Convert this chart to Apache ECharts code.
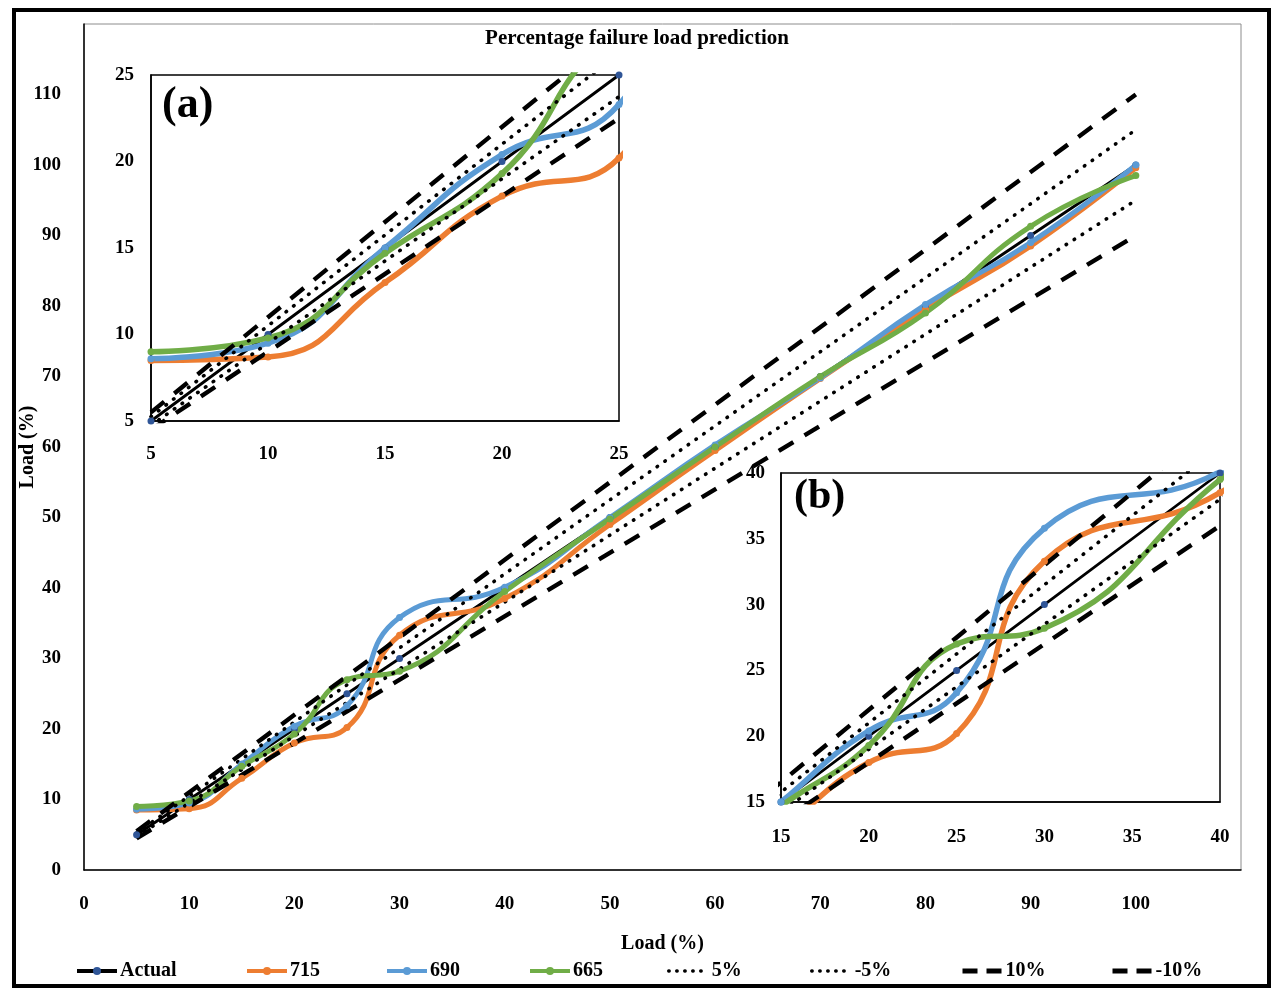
<!DOCTYPE html>
<html>
<head>
<meta charset="utf-8">
<title>Percentage failure load prediction</title>
<script src="https://cdn.jsdelivr.net/npm/echarts@6/dist/echarts.min.js"></script>
<style>
  html, body { margin: 0; padding: 0; background: #fff; }
  #chart { width: 1274px; height: 990px; }
</style>
</head>
<body>
<div id="chart"></div>
<script>
// Applied load (%) at each test point and the actual reference line
const loads   = [5, 10, 15, 20, 25, 30, 40, 50, 60, 70, 80, 90, 100];
const actual  = [5, 10, 15, 20, 25, 30, 40, 50, 60, 70, 80, 90, 100];
// Predicted load (%) for each model
const load715 = [8.5, 8.7, 13.0, 18.0, 20.2, 33.3, 38.5, 49.0, 59.5, 69.7, 79.5, 88.5, 99.6];
const load690 = [8.6, 9.5, 15.0, 20.4, 23.3, 35.8, 40.1, 50.0, 60.3, 69.8, 80.2, 89.0, 100.0];
const load665 = [9.0, 9.8, 14.7, 19.3, 27.0, 28.2, 39.5, 49.8, 60.0, 70.0, 79.0, 91.3, 98.5];
// Tolerance band end points
const bandX   = [5, 100];
const plus5   = [5.25, 105];
const minus5  = [4.75, 95];
const plus10  = [5.5, 110];
const minus10 = [4.5, 90];

const seriesNames = ['Actual', '715', '690', '665', '5%', '-5%', '10%', '-10%'];

const FONT = '"Liberation Serif", "Times New Roman", serif';
const ORANGE = '#ED7D31', BLUE = '#5B9BD5', GREEN = '#70AD47', MARK = '#2F5597';

function pairs(xs, ys) { return xs.map((x, i) => [x, ys[i]]); }

const dottedStyle = { color: '#000', width: 3.6, type: [0.5, 9], cap: 'round' };
const dashedStyle = { color: '#000', width: 4.4, type: [17, 13], cap: 'butt' };

function seriesFor(g, predWidth) {
  const base = { type: 'line', xAxisIndex: g, yAxisIndex: g, clip: true, animation: false, silent: true };
  const pred = (name, ys, color) => ({
    ...base, name, data: pairs(loads, ys), smooth: 0.5,
    symbol: 'circle', symbolSize: 7,
    lineStyle: { color, width: predWidth },
    itemStyle: { color }
  });
  return [
    { ...base, name: 'Actual', data: pairs(loads, actual), symbol: 'circle', symbolSize: 7,
      lineStyle: { color: '#000', width: 2.8 }, itemStyle: { color: MARK } },
    pred('715', load715, ORANGE),
    pred('690', load690, BLUE),
    pred('665', load665, GREEN),
    { ...base, name: '5%',   data: pairs(bandX, plus5),   symbol: 'none', lineStyle: dottedStyle, itemStyle: { color: '#000' } },
    { ...base, name: '-5%',  data: pairs(bandX, minus5),  symbol: 'none', lineStyle: dottedStyle, itemStyle: { color: '#000' } },
    { ...base, name: '10%',  data: pairs(bandX, plus10),  symbol: 'none', lineStyle: dashedStyle, itemStyle: { color: '#000' } },
    { ...base, name: '-10%', data: pairs(bandX, minus10), symbol: 'none', lineStyle: dashedStyle, itemStyle: { color: '#000' } }
  ];
}

const labelStyle = { fontFamily: FONT, fontWeight: 'bold', fontSize: 19, color: '#000' };
const nameStyle = { fontFamily: FONT, fontWeight: 'bold', fontSize: 20, color: '#000' };

function valueAxis(g, min, max, interval, hideAbove, margin, extra) {
  return Object.assign({
    type: 'value', gridIndex: g, min, max, interval,
    splitLine: { show: false },
    axisTick: { show: false },
    axisLine: { show: true, lineStyle: { color: '#000', width: 1.5 } },
    axisLabel: Object.assign({}, labelStyle, {
      margin,
      formatter: v => (v > hideAbove ? '' : String(v))
    })
  }, extra || {});
}

// Legend entries: left edge of each key and the stroke used for its sample
const legendLeft = [75, 245, 385, 528, 667, 810, 960, 1110];
function legendStroke(name) {
  if (name === '5%' || name === '-5%') return { width: 3.4, type: [0.5, 7.5], cap: 'round' };
  if (name === '10%' || name === '-10%') return { width: 5, type: [15, 9], cap: 'butt' };
  return { width: 4 };
}

const chart = echarts.init(document.getElementById('chart'), null, { renderer: 'canvas' });
chart.setOption({
  backgroundColor: '#fff',
  animation: false,
  title: {
    text: 'Percentage failure load prediction',
    left: 'center', top: 23,
    textStyle: { fontFamily: FONT, fontWeight: 'bold', fontSize: 21, color: '#000' }
  },
  legend: seriesNames.map((name, i) => ({
    data: [name.includes('%') ? { name, itemStyle: { opacity: 0 } } : name],
    left: legendLeft[i], top: 961, padding: 0,
    itemWidth: 40, itemHeight: 10, itemGap: 0,
    selectedMode: false,
    lineStyle: legendStroke(name),
    textStyle: { fontFamily: FONT, fontWeight: 'bold', fontSize: 20, color: '#000', padding: [0, 0, 0, -2] }
  })),
  grid: [
    { left: 84, top: 24, width: 1157, height: 846, outerBoundsMode: 'none',
      show: true, borderColor: '#8c8c8c', borderWidth: 1, backgroundColor: '#fff' },
    { left: 151, top: 75, width: 468, height: 346, outerBoundsMode: 'none',
      show: true, borderColor: '#000', borderWidth: 1.5, backgroundColor: '#fff' },
    { left: 781, top: 473, width: 439, height: 329, outerBoundsMode: 'none',
      show: true, borderColor: '#000', borderWidth: 1.5, backgroundColor: '#fff' }
  ],
  xAxis: [
    valueAxis(0, 0, 110, 10, 100, 25, {
      name: 'Load (%)', nameLocation: 'middle', nameGap: 64, nameMoveOverlap: false,
      nameTextStyle: nameStyle
    }),
    valueAxis(1, 5, 25, 5, 25, 24),
    valueAxis(2, 15, 40, 5, 40, 26)
  ],
  yAxis: [
    valueAxis(0, 0, 120, 10, 110, 23, {
      name: 'Load (%)', nameLocation: 'middle', nameGap: 46, nameMoveOverlap: false,
      nameTextStyle: nameStyle
    }),
    valueAxis(1, 5, 25, 5, 25, 17),
    valueAxis(2, 15, 40, 5, 40, 16)
  ],
  series: [].concat(seriesFor(0, 5), seriesFor(1, 5.5), seriesFor(2, 5.5)),
  graphic: [
    { type: 'rect', silent: true, z: 100,
      shape: { x: 14, y: 10, width: 1255, height: 976 },
      style: { fill: null, stroke: '#000', lineWidth: 4 } },
    { type: 'text', silent: true, z: 100, left: 162, top: 84,
      style: { text: '(a)', font: 'bold 44px ' + FONT, fill: '#000' } },
    { type: 'text', silent: true, z: 100, left: 794, top: 476,
      style: { text: '(b)', font: 'bold 42px ' + FONT, fill: '#000' } }
  ]
});
</script>
</body>
</html>
